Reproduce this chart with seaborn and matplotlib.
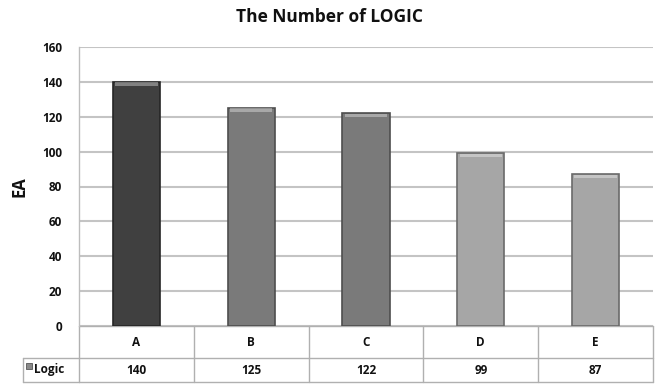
import matplotlib
matplotlib.use("Agg")
import matplotlib.pyplot as plt
import matplotlib.transforms as mtransforms
from matplotlib.patches import Rectangle
import seaborn as sns
import pandas as pd

categories = ["A", "B", "C", "D", "E"]
values = [140, 125, 122, 99, 87]
series_name = "Logic"
title = "The Number of LOGIC"
y_label = "EA"
y_ticks = [0, 20, 40, 60, 80, 100, 120, 140, 160]

bar_colors = ["#404040", "#7a7a7a", "#7a7a7a", "#a6a6a6", "#a6a6a6"]
edge_colors = ["#262626", "#4e4e4e", "#4e4e4e", "#6a6a6a", "#6a6a6a"]

sns.set_theme(style="white")
plt.rcParams["font.family"] = ["Open Sans", "DejaVu Sans"]
plt.rcParams["font.weight"] = "bold"

W, H = 660, 385
fig = plt.figure(figsize=(W / 100, H / 100), dpi=100)
left_px, right_px, top_px, bottom_px = 79, 653, 47, 326
ax = fig.add_axes([left_px / W, 1 - bottom_px / H,
                   (right_px - left_px) / W, (bottom_px - top_px) / H])

df = pd.DataFrame({"cat": categories, "val": values})
sns.barplot(data=df, x="cat", y="val", hue="cat", palette=bar_colors,
            legend=False, width=0.41, ax=ax, saturation=1)

for patch, ec in zip(ax.patches, edge_colors):
    patch.set_edgecolor(ec)
    patch.set_linewidth(1.2)
    patch.set_zorder(3)
    # light bevel band along the top of each bar
    x0, w = patch.get_x(), patch.get_width()
    top = patch.get_height()
    ax.add_patch(Rectangle((x0 + w * 0.05, top - 2.2), w * 0.90, 2.0,
                           facecolor="white", alpha=0.35, edgecolor="none",
                           zorder=4))

ax.set_ylim(0, 160)
ax.set_xlim(-0.5, len(categories) - 0.5)
ax.set_yticks(y_ticks)
ax.set_yticklabels([str(t) for t in y_ticks], fontsize=8.5, fontweight="bold",
                   color="#111111")
ax.tick_params(axis="y", length=0, pad=12)
ax.set_xticks([])
ax.set_xlabel("")
ax.set_ylabel(y_label, fontsize=12, fontweight="bold", labelpad=10,
              color="#111111")
ax.yaxis.grid(True, color="#c4c4c4", linewidth=1.5)
ax.set_axisbelow(True)
for side in ["top", "right", "bottom"]:
    ax.spines[side].set_visible(False)
ax.spines["left"].set_color("#bdbdbd")
ax.spines["left"].set_linewidth(1.0)

fig.text(0.5, 1 - 17 / H, title, ha="center", va="center",
         fontsize=12.5, fontweight="bold", color="#111111")

# data table below the axis
trans = mtransforms.blended_transform_factory(ax.transData, ax.transAxes)
ax_h = bottom_px - top_px
row1 = -(358 - bottom_px) / ax_h
row2 = -(382 - bottom_px) / ax_h
line_kw = dict(color="#b0b0b0", linewidth=1.0, clip_on=False, transform=trans)
n = len(categories)
xl, xr = -0.5, n - 0.5
ax.plot([xl, xr], [0, 0], **line_kw)
ax.plot([xl, xr], [row1, row1], **line_kw)
ax.plot([xl, xr], [row2, row2], **line_kw)
for i in range(n + 1):
    ax.plot([xl + i, xl + i], [0, row2], **line_kw)

# header cell for the series name
cell_left = xl - (left_px - 23) / ((right_px - left_px) / n)
ax.plot([cell_left, xl], [row1, row1], **line_kw)
ax.plot([cell_left, xl], [row2, row2], **line_kw)
ax.plot([cell_left, cell_left], [row1, row2], **line_kw)

for i, (c, v) in enumerate(zip(categories, values)):
    ax.text(i, row1 / 2, c, transform=trans, ha="center", va="center",
            fontsize=8.5, fontweight="bold", color="#111111")
    ax.text(i, (row1 + row2) / 2, str(v), transform=trans, ha="center",
            va="center", fontsize=8.5, fontweight="bold", color="#111111")

key_x = cell_left + 0.03
ax.add_patch(Rectangle((key_x, (row1 + row2) / 2 + 0.004), 0.05, 0.022,
                       facecolor="#8a8a8a", edgecolor="#555555", linewidth=0.6,
                       transform=trans, clip_on=False))
ax.text(key_x + 0.07, (row1 + row2) / 2, series_name, transform=trans,
        ha="left", va="center", fontsize=8.5, fontweight="bold", color="#111111")

fig.savefig("out.png", dpi=100, facecolor="white")
